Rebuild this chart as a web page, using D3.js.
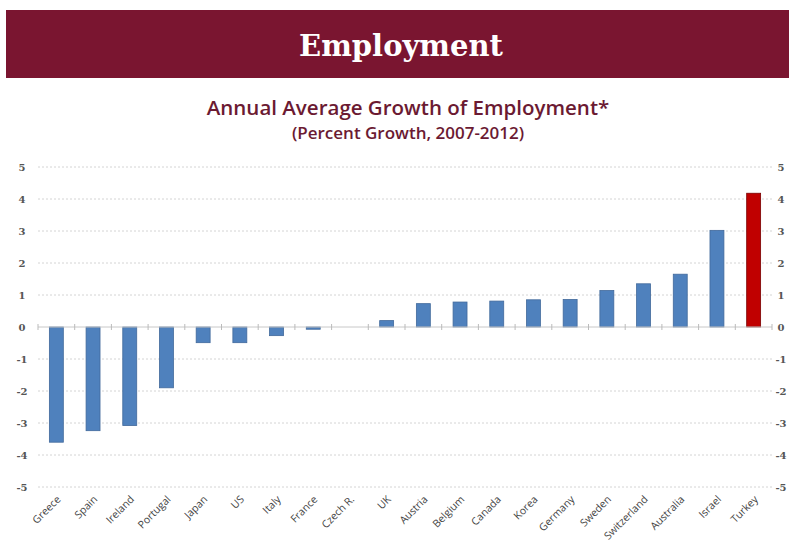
<!DOCTYPE html>
<html>
<head>
<meta charset="utf-8">
<script src="https://cdn.jsdelivr.net/npm/d3@7"></script>
<style>
  html, body { margin: 0; padding: 0; background: #fff; }
  svg { display: block; }
</style>
</head>
<body>
<svg id="chart" width="789" height="544"></svg>
<script>
// Annual average growth of employment, 2007-2012 (percent)
const countries = ["Greece", "Spain", "Ireland", "Portugal", "Japan", "US", "Italy", "France", "Czech R.", "UK",
  "Austria", "Belgium", "Canada", "Korea", "Germany", "Sweden", "Switzerland", "Australia", "Israel", "Turkey"];
const growth = [-3.6, -3.24, -3.08, -1.9, -0.49, -0.49, -0.27, -0.07, 0.0, 0.2,
  0.73, 0.78, 0.81, 0.85, 0.86, 1.14, 1.35, 1.65, 3.02, 4.18];
const yTicks = [-5, -4, -3, -2, -1, 0, 1, 2, 3, 4, 5];
const highlighted = "Turkey";

const data = countries.map((c, i) => ({ country: c, value: growth[i] }));

const svg = d3.select("#chart");
const W = 789;

// header banner
svg.append("rect").attr("x", 6).attr("y", 10).attr("width", W - 6).attr("height", 68).attr("fill", "#7a1530");
svg.append("text").attr("x", 401).attr("y", 56).attr("text-anchor", "middle")
  .attr("font-family", "'DejaVu Serif', 'Liberation Serif', serif").attr("font-weight", "bold")
  .attr("font-size", 29).attr("fill", "#fff").text("Employment");

// chart titles
svg.append("text").attr("x", 408).attr("y", 115).attr("text-anchor", "middle")
  .attr("font-family", "'Open Sans', sans-serif").attr("font-weight", 600)
  .attr("font-size", 20.5).attr("fill", "#6b1a32").text("Annual Average Growth of Employment*");
svg.append("text").attr("x", 408).attr("y", 139).attr("text-anchor", "middle")
  .attr("font-family", "'Open Sans', sans-serif").attr("font-weight", 600)
  .attr("font-size", 17).attr("fill", "#6b1a32").text("(Percent Growth, 2007-2012)");

const left = 38, right = 772;
const x = d3.scaleBand().domain(countries).range([left, right]).paddingInner(0.62).paddingOuter(0.31);
const y = d3.scaleLinear().domain([-5, 5]).range([487, 167]);

// dotted gridlines
svg.append("g").selectAll("line").data(yTicks.filter(t => t !== 0)).join("line")
  .attr("x1", left).attr("x2", right)
  .attr("y1", d => y(d)).attr("y2", d => y(d))
  .attr("stroke", "#d4d4d4").attr("stroke-width", 1).attr("stroke-dasharray", "2,2");

// tick labels on both sides
[22, 781].forEach(xp => {
  svg.append("g").selectAll("text").data(yTicks).join("text")
    .attr("x", xp).attr("y", d => y(d)).attr("dy", "0.35em").attr("text-anchor", "middle")
    .attr("font-family", "'DejaVu Serif', serif").attr("font-size", 10).attr("font-weight", "bold")
    .attr("fill", "#555").text(d => d);
});

// bars
svg.append("g").selectAll("rect").data(data).join("rect")
  .attr("x", d => x(d.country))
  .attr("width", x.bandwidth())
  .attr("y", d => y(Math.max(0, d.value)))
  .attr("height", d => Math.abs(y(d.value) - y(0)))
  .attr("fill", d => d.country === highlighted ? "#c00000" : "#4f81bd")
  .attr("stroke", d => d.country === highlighted ? "#7a0000" : "#41699b")
  .attr("stroke-width", 0.8);

// zero axis with category ticks
const axis = svg.append("g").attr("transform", `translate(0,${y(0)})`);
axis.append("line").attr("x1", left).attr("x2", right).attr("stroke", "#c8c8c8");
const step = x.step();
axis.selectAll("line.tk").data(d3.range(countries.length + 1)).join("line").attr("class", "tk")
  .attr("x1", i => left + i * step).attr("x2", i => left + i * step)
  .attr("y1", -3).attr("y2", 3).attr("stroke", "#bbb");

// rotated category labels
svg.append("g").selectAll("text").data(countries).join("text")
  .attr("transform", d => `translate(${x(d) + x.bandwidth() / 2 + 5},${500}) rotate(-45)`)
  .attr("text-anchor", "end")
  .attr("font-family", "'Open Sans', sans-serif").attr("font-size", 10.5)
  .attr("fill", "#444").text(d => d);
</script>
</body>
</html>
